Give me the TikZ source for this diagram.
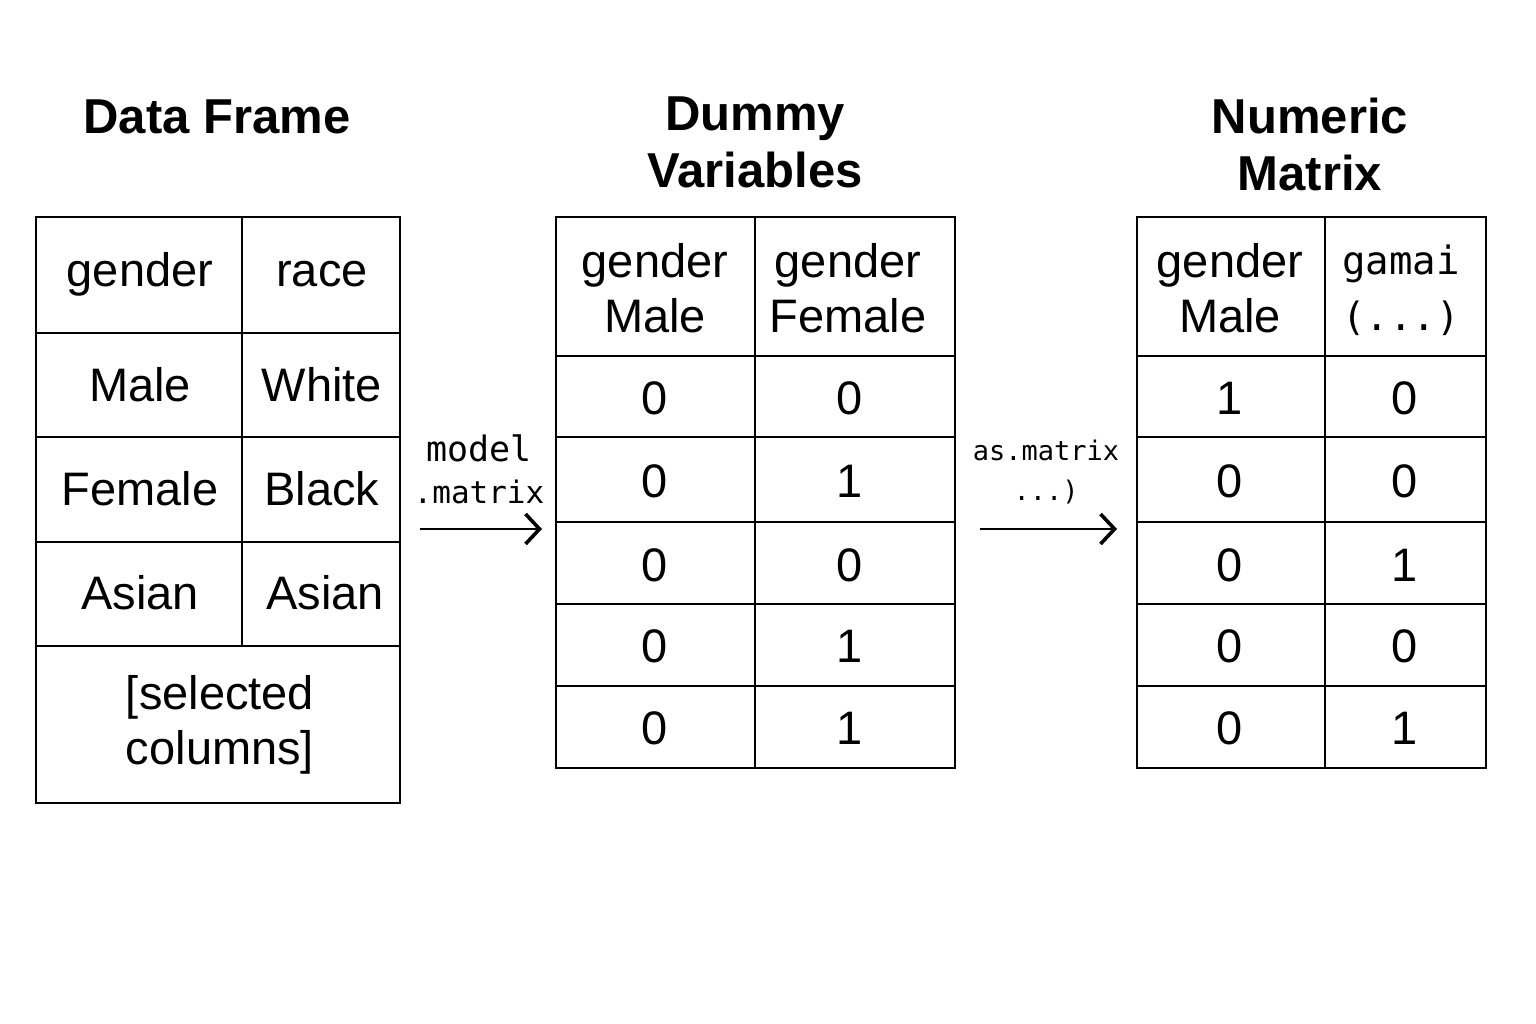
\documentclass[tikz,border=0pt]{standalone}
\usepackage{fontspec}
\setmainfont{Liberation Sans}
\newfontfamily\monof{DejaVu Sans Mono}
\usetikzlibrary{arrows.meta}
\begin{document}
\begin{tikzpicture}[x=1pt,y=-1pt,
  grid/.style={line width=2pt, line cap=rect},
  cell/.style={inner sep=0pt, align=center, font=\fontsize{47}{55}\selectfont},
  ttl/.style={inner sep=0pt, align=center, font=\fontsize{49}{57}\selectfont\bfseries},
  lbl/.style={inner sep=0pt, align=center},
  arr/.style={line width=2.4pt, -{Straight Barb[length=14pt,width=30pt,line width=3.6pt]}}]
\useasboundingbox (0,0) rectangle (1536,1024);
% ---------- Data Frame ----------
\node[ttl] (t1) at (217,117) {Data Frame};
\draw[grid] (36,217) rectangle (400,803);
\draw[grid] (242,217) -- (242,646);
\foreach \y in {333,437,542,646} \draw[grid] (36,\y) -- (400,\y);
\node[cell] (a11) at (140,274) {gender};
\node[cell] (a12) at (322,274) {race};
\node[cell] (a21) at (140,385) {Male};
\node[cell] (a22) at (322,385) {White};
\node[cell] (a31) at (140,489) {Female};
\node[cell] (a32) at (322,489) {Black};
\node[cell] (a41) at (140,593) {Asian};
\node[cell] (a42) at (325,593) {Asian};
\node[cell] (a5) at (220,725) {[selected\\columns]};
% ---------- Dummy Variables ----------
\node[ttl] (t2) at (755,142) {Dummy\\Variables};
\draw[grid] (556,217) rectangle (955,768);
\draw[grid] (755,217) -- (755,768);
\foreach \y in {356,437,522,604,686} \draw[grid] (556,\y) -- (955,\y);
\node[cell] (b01) at (655,288) {gender\\Male};
\node[cell] (b02) at (848,288) {gender\\Female};
\foreach \r/\y/\u/\v in {1/398/0/0,2/481/0/1,3/565/0/0,4/646/0/1,5/728/0/1}{
  \node[cell] (b\r1) at (655,\y) {\u};
  \node[cell] (b\r2) at (850,\y) {\v};
}
% ---------- Numeric Matrix ----------
\node[ttl] (t3) at (1310,144) {Numeric\\Matrix};
\draw[grid] (1137,217) rectangle (1486,768);
\draw[grid] (1325,217) -- (1325,768);
\foreach \y in {356,437,522,604,686} \draw[grid] (1137,\y) -- (1486,\y);
\node[cell] (c01) at (1230,288) {gender\\Male};
\node[lbl, font=\monof\fontsize{39}{56}\selectfont] (c02) at (1401,290) {gamai\\(...)};
\foreach \r/\y/\u/\v in {1/398/1/0,2/481/0/0,3/565/0/1,4/646/0/0,5/728/0/1}{
  \node[cell] (c\r1) at (1230,\y) {\u};
  \node[cell] (c\r2) at (1405,\y) {\v};
}
% ---------- Arrows ----------
\coordinate (p1) at (420,529);
\coordinate (p2) at (542,529);
\draw[arr] (p1) -- (p2);
\node[lbl, font=\monof\fontsize{31}{42}\selectfont] (l1) at (479,469)
  {{\fontsize{35}{42}\selectfont model}\\.matrix};
\coordinate (q1) at (980,529);
\coordinate (q2) at (1117,529);
\draw[arr] (q1) -- (q2);
\node[lbl, font=\monof\fontsize{27}{40}\selectfont] (l2) at (1046,472) {as.matrix\\...)};
\end{tikzpicture}
\end{document}
